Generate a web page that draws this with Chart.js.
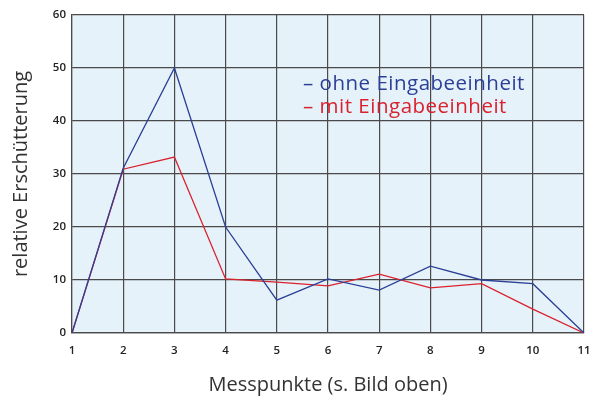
<!DOCTYPE html>
<html>
<head>
<meta charset="utf-8">
<script src="https://cdn.jsdelivr.net/npm/chart.js@4/dist/chart.umd.min.js"></script>
<style>
  html, body { margin: 0; padding: 0; background: #fff; }
  #wrap { position: relative; width: 598px; height: 401px; }
  #legend { position: absolute; left: 303px; top: 71px; font-family: "Open Sans", sans-serif; font-size: 20.5px; letter-spacing: 0.5px; line-height: 23px; }
</style>
</head>
<body>
<div id="wrap">
  <canvas id="chart" width="598" height="401"></canvas>
  <div id="legend"></div>
</div>
<script>
const messpunkte = ['1', '2', '3', '4', '5', '6', '7', '8', '9', '10', '11'];
const ohneEingabe = [0, 31.1, 50, 20, 6.2, 10.2, 8.1, 12.6, 10, 9.3, 0];
const mitEingabe = [0, 30.9, 33.2, 10.2, 9.6, 8.9, 11.1, 8.5, 9.3, 4.5, 0];
const blue = '#2b3f96';
const red = '#d9222e';

const bgPlugin = {
    id: 'plotBg',
    beforeDraw(chart) {
        const a = chart.chartArea;
        const ctx = chart.ctx;
        ctx.save();
        ctx.fillStyle = '#e6f2fa';
        ctx.fillRect(a.left, a.top, a.right - a.left, a.bottom - a.top);
        ctx.restore();
    }
};

const data = {
    labels: messpunkte,
    datasets: [{
        label: 'ohne Eingabeeinheit',
        data: ohneEingabe,
        borderColor: blue,
        borderWidth: 1.3,
        pointRadius: 0,
        tension: 0
    }, {
        label: 'mit Eingabeeinheit',
        data: mitEingabe,
        borderColor: red,
        borderWidth: 1.3,
        pointRadius: 0,
        tension: 0
    }]
};

const config = {
    type: 'line',
    data: data,
    plugins: [bgPlugin],
    options: {
        responsive: false,
        animation: false,
        layout: { padding: { top: 15, right: 0, left: 0, bottom: 0 } },
        plugins: { legend: { display: false }, tooltip: { enabled: false } },
        scales: {
            x: {
                offset: false,
                grid: { color: '#4a4a4a', lineWidth: 1.2, drawTicks: false },
                border: { color: '#4a4a4a', width: 1.2 },
                ticks: { color: '#222', padding: 11, maxRotation: 0, font: { family: 'Open Sans', size: 11.5, weight: '600' } },
                title: { display: true, text: 'Messpunkte (s. Bild oben)', color: '#333', padding: { top: 12 }, font: { family: 'Open Sans', size: 20 } },
                afterFit(axis) { axis.height = 68; axis.paddingRight = 14; }
            },
            y: {
                min: 0,
                max: 60,
                grid: { color: '#4a4a4a', lineWidth: 1.2, drawTicks: false },
                border: { color: '#4a4a4a', width: 1.2 },
                ticks: { stepSize: 10, color: '#222', padding: 6, font: { family: 'Open Sans', size: 11.5, weight: '600' } },
                title: { display: true, text: 'relative Erschütterung', color: '#333', padding: { bottom: 0, top: 9 }, font: { family: 'Open Sans', size: 20 } },
                afterFit(axis) { axis.width = 72; }
            }
        }
    }
};

const myChart = new Chart(document.getElementById('chart'), config);

const legend = document.getElementById('legend');
myChart.data.datasets.forEach(ds => {
    const row = document.createElement('div');
    row.style.color = ds.borderColor;
    row.textContent = '\u2013 ' + ds.label;
    legend.appendChild(row);
});
</script>
</body>
</html>
